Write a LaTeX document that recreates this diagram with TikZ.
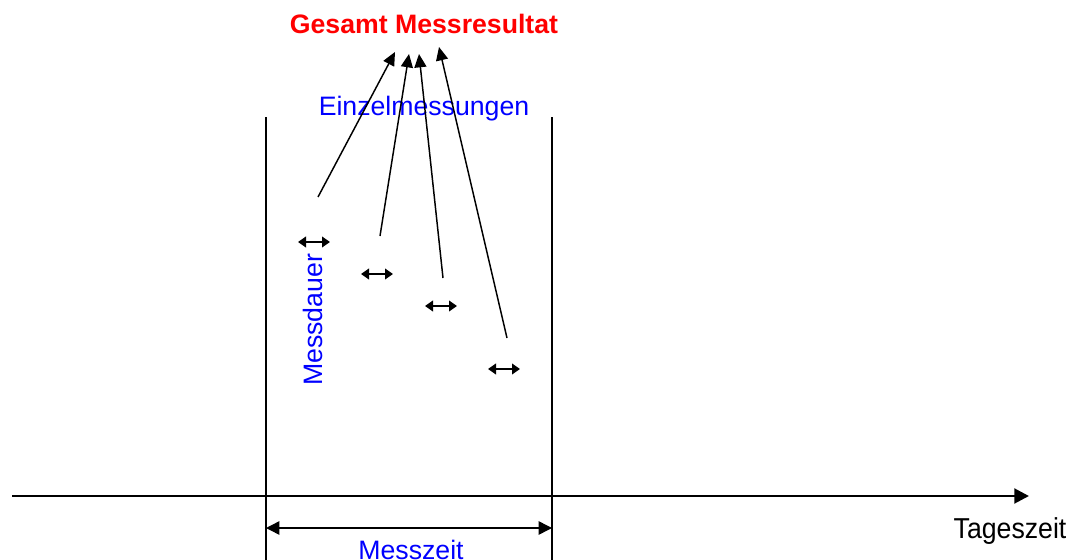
\documentclass[tikz,border=0pt]{standalone}
\usepackage{fontspec}
\setmainfont{Liberation Sans}
\usetikzlibrary{arrows.meta}
\definecolor{tred}{RGB}{255,0,0}
\definecolor{tblue}{RGB}{0,0,255}
\begin{document}
\begin{tikzpicture}[x=0.75pt,y=-0.75pt,
  lbl/.style={inner sep=0pt,font=\fontsize{20}{24}\selectfont},
  bluelbl/.style={lbl,text=tblue},
  thin line/.style={line width=1.1pt},
  uparrow/.style={line width=1.1pt,-{Triangle[length=10pt,width=9pt]}},
  small dbl/.style={line width=1.3pt,{Triangle[length=6pt,width=8pt]}-{Triangle[length=6pt,width=8pt]}},
  axis/.style={line width=2.2pt,-{Triangle[length=11pt,width=11pt]}},
  zeit dbl/.style={line width=1.1pt,{Triangle[length=10pt,width=10pt]}-{Triangle[length=10pt,width=10pt]}}]
\useasboundingbox (0,0) rectangle (1071,560);
% texts
\node[lbl,text=tred,font=\fontsize{20}{24}\selectfont\bfseries,anchor=base] (title) at (424,34) {Gesamt Messresultat};
\node[bluelbl,anchor=base] (einzel) at (424,116) {Einzelmessungen};
\node[bluelbl,anchor=base,rotate=90] (dauer) at (322,320) {Messdauer};
\node[bluelbl,anchor=base] (zeit) at (411,559) {Messzeit};
\node[lbl,anchor=base,yscale=1.08] (tag) at (1010,538) {Tageszeit};
% vertical lines
\coordinate (l1t) at (266,117); \coordinate (l1b) at (266,560);
\coordinate (l2t) at (552,117); \coordinate (l2b) at (552,560);
\draw[thin line] (l1t) -- (l1b);
\draw[thin line] (l2t) -- (l2b);
% axis
\coordinate (ax0) at (12,496); \coordinate (ax1) at (1029,496);
\draw[axis] (ax0) -- (ax1);
% Messzeit arrow
\coordinate (mz0) at (266,528); \coordinate (mz1) at (552,528);
\draw[zeit dbl] (mz0) -- (mz1);
% small double arrows (Messdauer)
\coordinate (d1a) at (298,242); \coordinate (d1b) at (330,242);
\coordinate (d2a) at (361,274); \coordinate (d2b) at (393,274);
\coordinate (d3a) at (425,306); \coordinate (d3b) at (457,306);
\coordinate (d4a) at (488,369); \coordinate (d4b) at (520,369);
\draw[small dbl] (d1a) -- (d1b);
\draw[small dbl] (d2a) -- (d2b);
\draw[small dbl] (d3a) -- (d3b);
\draw[small dbl] (d4a) -- (d4b);
% arrows to result
\coordinate (s1) at (318,197); \coordinate (t1) at (395,52);
\coordinate (s2) at (380,236); \coordinate (t2) at (409,54);
\coordinate (s3) at (443,278); \coordinate (t3) at (419,54);
\coordinate (s4) at (507,338); \coordinate (t4) at (439,47);
\draw[uparrow] (s1) -- (t1);
\draw[uparrow] (s2) -- (t2);
\draw[uparrow] (s3) -- (t3);
\draw[uparrow] (s4) -- (t4);
\end{tikzpicture}
\end{document}
